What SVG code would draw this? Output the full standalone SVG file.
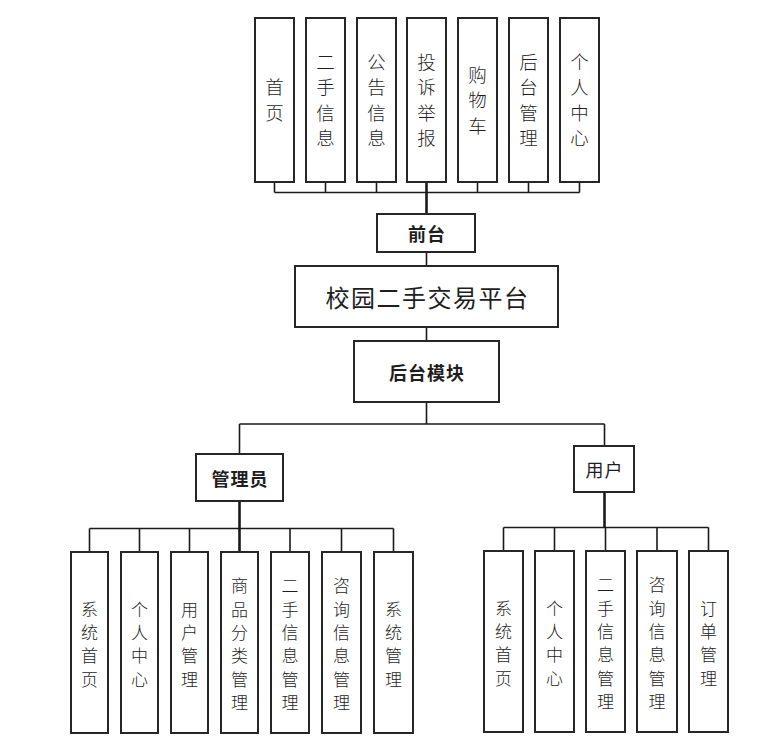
<svg xmlns="http://www.w3.org/2000/svg" width="758" height="752" viewBox="0 0 758 752">
<style>
.box{fill:#fff;stroke:#262626;stroke-width:2}
.ln{fill:none;stroke:#1a1a1a;stroke-width:1.6}
.thk{fill:none;stroke:#1a1a1a;stroke-width:2.6}
text{font-family:"Noto Sans CJK SC","Noto Sans",sans-serif;fill:#1e1e1e;text-anchor:middle;dominant-baseline:central}
.v1{font-size:18.5px;font-weight:300}
.v2{font-size:17px;font-weight:300}
.b{font-size:18px;font-weight:bold;letter-spacing:1px}
.n{font-size:18px;letter-spacing:1px}
.t{font-size:24px;letter-spacing:1.5px}
</style>
<rect width="758" height="752" fill="#fff"/>
<g id="connectors">
<path class="ln" d="M274.5 182V192.5M325.5 182V192.5M376.5 182V192.5M477.5 182V192.5M528.5 182V192.5M579.5 182V192.5M274.5 192.5H579.5"/>
<path class="thk" d="M426.5 182V214"/>
<path class="ln" d="M426.5 252V266M426.5 327V341M426.5 402V424M239.5 424H604.5M239.5 424V454M604.5 424V446"/>
<path class="thk" d="M239.5 501V552"/>
<path class="ln" d="M89.5 528.5H393.5M89.5 528.5V552M139.5 528.5V552M189.5 528.5V552M290 528.5V552M341.5 528.5V552M393.5 528.5V552"/>
<path class="thk" d="M604.5 492V528"/>
<path class="ln" d="M605.5 527.5V551M503.5 527.5H708.5M503.5 527.5V551M554.5 527.5V551M657 527.5V551M708.5 527.5V551"/>
</g>
<g id="n_home"><rect class="box" x="255" y="18" width="39" height="164"/><text class="v1"><tspan x="274.5" y="86.25">首</tspan><tspan x="274.5" y="111.75">页</tspan></text></g>
<g id="n_ershou"><rect class="box" x="306" y="18" width="39" height="164"/><text class="v1"><tspan x="325.5" y="60.75">二</tspan><tspan x="325.5" y="86.25">手</tspan><tspan x="325.5" y="111.75">信</tspan><tspan x="325.5" y="137.25">息</tspan></text></g>
<g id="n_gonggao"><rect class="box" x="357" y="18" width="39" height="164"/><text class="v1"><tspan x="376.5" y="60.75">公</tspan><tspan x="376.5" y="86.25">告</tspan><tspan x="376.5" y="111.75">信</tspan><tspan x="376.5" y="137.25">息</tspan></text></g>
<g id="n_tousu"><rect class="box" x="407" y="18" width="39" height="164"/><text class="v1"><tspan x="426.5" y="60.75">投</tspan><tspan x="426.5" y="86.25">诉</tspan><tspan x="426.5" y="111.75">举</tspan><tspan x="426.5" y="137.25">报</tspan></text></g>
<g id="n_cart"><rect class="box" x="458" y="18" width="39" height="164"/><text class="v1"><tspan x="477.5" y="73.5">购</tspan><tspan x="477.5" y="99">物</tspan><tspan x="477.5" y="124.5">车</tspan></text></g>
<g id="n_houtai"><rect class="box" x="509" y="18" width="39" height="164"/><text class="v1"><tspan x="528.5" y="60.75">后</tspan><tspan x="528.5" y="86.25">台</tspan><tspan x="528.5" y="111.75">管</tspan><tspan x="528.5" y="137.25">理</tspan></text></g>
<g id="n_geren"><rect class="box" x="560" y="18" width="39" height="164"/><text class="v1"><tspan x="579.5" y="60.75">个</tspan><tspan x="579.5" y="86.25">人</tspan><tspan x="579.5" y="111.75">中</tspan><tspan x="579.5" y="137.25">心</tspan></text></g>
<g id="n_qiantai"><rect class="box" x="377" y="214" width="98" height="38"/><text class="b" x="427" y="233">前台</text></g>
<g id="n_main"><rect class="box" x="295" y="266" width="263" height="61"/><text class="t" x="427.5" y="296.5">校园二手交易平台</text></g>
<g id="n_backend"><rect class="box" x="354" y="341" width="145" height="61"/><text class="b" x="427" y="371.5">后台模块</text></g>
<g id="n_admin"><rect class="box" x="196" y="454" width="87" height="47"/><text class="b" x="240" y="477.5">管理员</text></g>
<g id="n_user"><rect class="box" x="574" y="446" width="60" height="46"/><text class="n" x="604.5" y="469">用户</text></g>
<g id="a_home"><rect class="box" x="71" y="552" width="37" height="181"/><text class="v2"><tspan x="89.5" y="607.5">系</tspan><tspan x="89.5" y="630.8">统</tspan><tspan x="89.5" y="654.2">首</tspan><tspan x="89.5" y="677.5">页</tspan></text></g>
<g id="a_geren"><rect class="box" x="121" y="552" width="37" height="181"/><text class="v2"><tspan x="139.5" y="607.5">个</tspan><tspan x="139.5" y="630.8">人</tspan><tspan x="139.5" y="654.2">中</tspan><tspan x="139.5" y="677.5">心</tspan></text></g>
<g id="a_user"><rect class="box" x="171" y="552" width="37" height="181"/><text class="v2"><tspan x="189.5" y="607.5">用</tspan><tspan x="189.5" y="630.8">户</tspan><tspan x="189.5" y="654.2">管</tspan><tspan x="189.5" y="677.5">理</tspan></text></g>
<g id="a_cat"><rect class="box" x="221" y="552" width="37" height="181"/><text class="v2"><tspan x="239.5" y="584.25">商</tspan><tspan x="239.5" y="607.5">品</tspan><tspan x="239.5" y="630.8">分</tspan><tspan x="239.5" y="654.2">类</tspan><tspan x="239.5" y="677.5">管</tspan><tspan x="239.5" y="700.75">理</tspan></text></g>
<g id="a_ershou"><rect class="box" x="271" y="552" width="38" height="181"/><text class="v2"><tspan x="290" y="584.25">二</tspan><tspan x="290" y="607.5">手</tspan><tspan x="290" y="630.8">信</tspan><tspan x="290" y="654.2">息</tspan><tspan x="290" y="677.5">管</tspan><tspan x="290" y="700.75">理</tspan></text></g>
<g id="a_zixun"><rect class="box" x="322" y="552" width="39" height="181"/><text class="v2"><tspan x="341.5" y="584.25">咨</tspan><tspan x="341.5" y="607.5">询</tspan><tspan x="341.5" y="630.8">信</tspan><tspan x="341.5" y="654.2">息</tspan><tspan x="341.5" y="677.5">管</tspan><tspan x="341.5" y="700.75">理</tspan></text></g>
<g id="a_sys"><rect class="box" x="374" y="552" width="39" height="181"/><text class="v2"><tspan x="393.5" y="607.5">系</tspan><tspan x="393.5" y="630.8">统</tspan><tspan x="393.5" y="654.2">管</tspan><tspan x="393.5" y="677.5">理</tspan></text></g>
<g id="u_home"><rect class="box" x="484" y="551" width="39" height="181"/><text class="v2"><tspan x="503.5" y="606.5">系</tspan><tspan x="503.5" y="629.8">统</tspan><tspan x="503.5" y="653.2">首</tspan><tspan x="503.5" y="676.5">页</tspan></text></g>
<g id="u_geren"><rect class="box" x="535" y="551" width="39" height="181"/><text class="v2"><tspan x="554.5" y="606.5">个</tspan><tspan x="554.5" y="629.8">人</tspan><tspan x="554.5" y="653.2">中</tspan><tspan x="554.5" y="676.5">心</tspan></text></g>
<g id="u_ershou"><rect class="box" x="586" y="551" width="39" height="181"/><text class="v2"><tspan x="605.5" y="583.25">二</tspan><tspan x="605.5" y="606.5">手</tspan><tspan x="605.5" y="629.8">信</tspan><tspan x="605.5" y="653.2">息</tspan><tspan x="605.5" y="676.5">管</tspan><tspan x="605.5" y="699.75">理</tspan></text></g>
<g id="u_zixun"><rect class="box" x="637" y="551" width="40" height="181"/><text class="v2"><tspan x="657" y="583.25">咨</tspan><tspan x="657" y="606.5">询</tspan><tspan x="657" y="629.8">信</tspan><tspan x="657" y="653.2">息</tspan><tspan x="657" y="676.5">管</tspan><tspan x="657" y="699.75">理</tspan></text></g>
<g id="u_order"><rect class="box" x="689" y="551" width="39" height="181"/><text class="v2"><tspan x="708.5" y="606.5">订</tspan><tspan x="708.5" y="629.8">单</tspan><tspan x="708.5" y="653.2">管</tspan><tspan x="708.5" y="676.5">理</tspan></text></g>
</svg>
